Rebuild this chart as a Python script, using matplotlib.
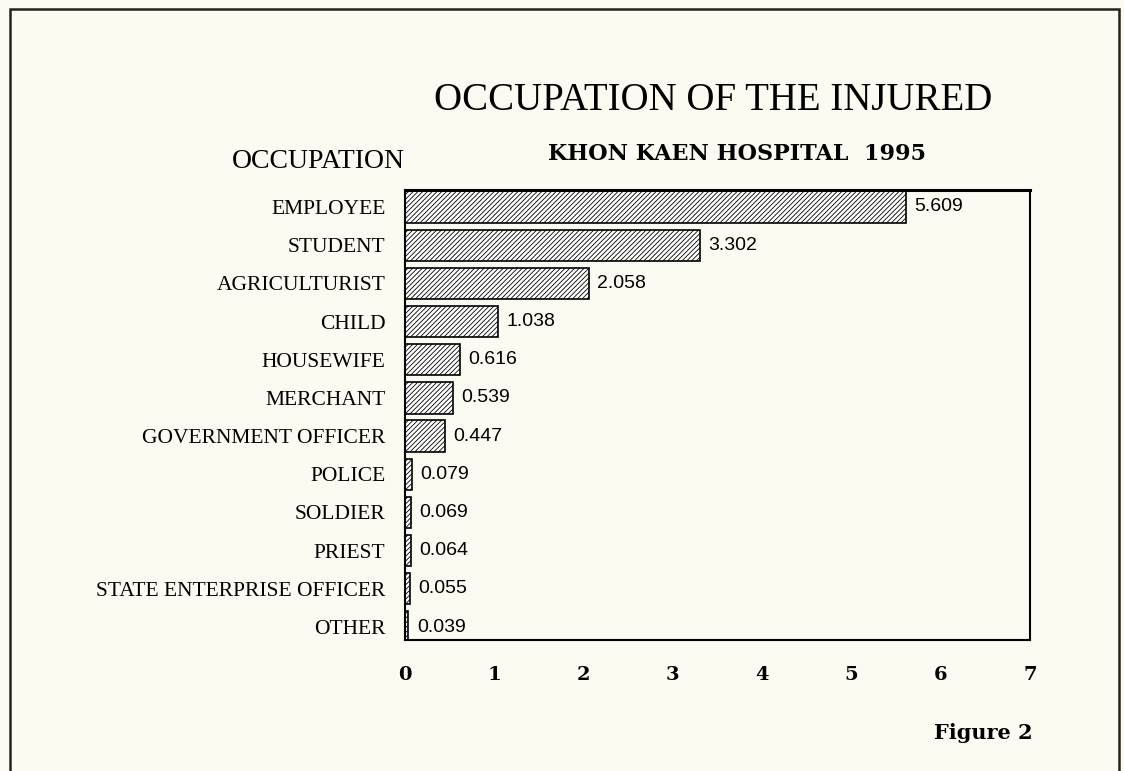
import matplotlib.pyplot as plt
from matplotlib.patches import Rectangle

occupations = ["EMPLOYEE", "STUDENT", "AGRICULTURIST", "CHILD", "HOUSEWIFE",
               "MERCHANT", "GOVERNMENT OFFICER", "POLICE", "SOLDIER", "PRIEST",
               "STATE ENTERPRISE OFFICER", "OTHER"]
values = [5.609, 3.302, 2.058, 1.038, 0.616, 0.539, 0.447, 0.079, 0.069,
          0.064, 0.055, 0.039]
xticks = [0, 1, 2, 3, 4, 5, 6, 7]

paper = '#fcfbf2'
serif = 'Liberation Serif'
plt.rcParams['hatch.linewidth'] = 0.6

fig = plt.figure(figsize=(11.24, 7.71), dpi=100, facecolor=paper)
ax = fig.add_axes([405/1124, 1-640/771, 625/1124, 450/771])
ax.set_facecolor('none')

ypos = list(range(len(occupations)))
ax.barh(ypos, values, height=0.82, color='white', edgecolor='black',
        linewidth=1.2, hatch='///////')

for y, v in zip(ypos, values):
    ax.annotate(f"{v:.3f}", (v, y), xytext=(6, 0), textcoords='offset points',
                va='center', ha='left', fontsize=14, family='Liberation Sans')

ax.set_xlim(0, 7)
ax.set_ylim(11.34, -0.445)
ax.set_yticks(ypos)
ax.set_yticklabels(occupations, family=serif, fontsize=15.5)
ax.set_xticks(xticks)
ax.set_xticklabels([str(t) for t in xticks], family='DejaVu Serif',
                   fontsize=14, fontweight='bold')
ax.tick_params(axis='both', length=0)
ax.tick_params(axis='y', pad=14)
ax.tick_params(axis='x', pad=19)
for s in ax.spines.values():
    s.set_linewidth(1.5)
ax.spines['top'].set_linewidth(2.2)

fig.text(713/1124, 1-100/771, "OCCUPATION OF THE INJURED", family=serif,
         fontsize=28, ha='center', va='center')
fig.text(737/1124, 1-154/771, "KHON KAEN HOSPITAL  1995", family='DejaVu Serif',
         fontsize=16, fontweight='bold', ha='center', va='center')
fig.text(318/1124, 1-162/771, "OCCUPATION", family=serif,
         fontsize=20, ha='center', va='center')
fig.text(983/1124, 1-733/771, "Figure 2", family='DejaVu Serif',
         fontsize=15, fontweight='bold', ha='center', va='center')

# page border of the scanned figure
fig.patches.append(Rectangle((10/1124, -0.05), 1109/1124, 1.05 - 9/771,
                             transform=fig.transFigure, fill=False,
                             edgecolor='#222222', linewidth=1.8))

fig.savefig("out.png", dpi=100, facecolor=paper)
